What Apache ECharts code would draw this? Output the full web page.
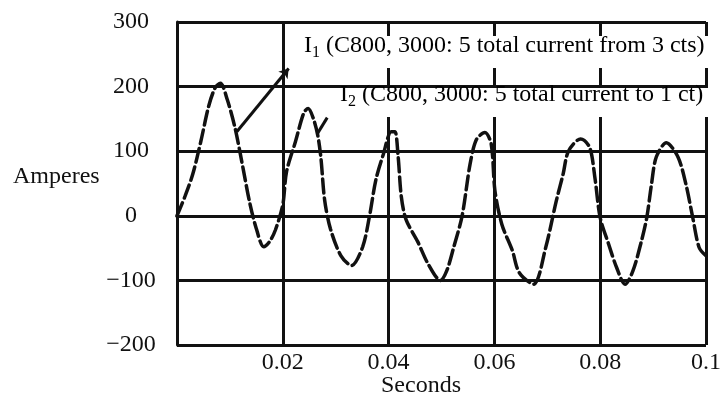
<!DOCTYPE html>
<html>
<head>
<meta charset="utf-8">
<script src="https://cdn.jsdelivr.net/npm/echarts@6/dist/echarts.min.js"></script>
<style>
  html, body { margin: 0; padding: 0; background: #fff; }
  #chart { width: 724px; height: 400px; }
</style>
</head>
<body>
<div id="chart"></div>
<script>
// ==============================
// data
// ==============================

const seconds = [0, 0.0015, 0.003, 0.0045, 0.006, 0.0072, 0.0082, 0.0095, 0.011, 0.0125, 0.0137, 0.015, 0.0164, 0.0175, 0.0186,
  0.02, 0.0207, 0.0224, 0.024, 0.0248, 0.0258, 0.0266, 0.0272, 0.0279, 0.029, 0.031, 0.033, 0.0351, 0.0364, 0.0376, 0.039,
  0.0405, 0.0412, 0.0418, 0.0424, 0.0433, 0.0455, 0.0475, 0.0498, 0.051, 0.0523, 0.0539, 0.0554, 0.0566, 0.0582, 0.0594,
  0.0601, 0.0614, 0.0634, 0.0647, 0.0674, 0.0697, 0.0717, 0.073, 0.074, 0.0763, 0.078, 0.079, 0.08, 0.0816, 0.0831,
  0.0847, 0.0862, 0.0878, 0.0888, 0.0897, 0.0906, 0.0925, 0.0947, 0.0962, 0.0975, 0.0987, 0.1];

const amperes = [0, 30, 65, 115, 170, 198, 205, 180, 135, 73, 22, -20, -48, -40, -22,
  17, 68, 115, 160, 166, 150, 125, 90, 25, -20, -62, -77, -48, 0, 56, 95,
  130, 130, 92, 30, -6, -40, -75, -100, -85, -49, 0, 80, 118, 129, 111,
  39, -13, -54, -88, -106, -49, 23, 65, 100, 119, 106, 59, -3, -44, -80,
  -106, -85, -39, -3, 49, 91, 113, 91, 49, -3, -49, -62];

// leader lines from the curve to the two captions [seconds, amperes]
const i1Leader = [[0.0113, 130], [0.0211, 228]];
const i2Leader = [[0.0266, 128], [0.0284, 152]];

const xTicks = { min: 0, max: 0.1, step: 0.02 };
const yTicks = { min: -200, max: 300, step: 100 };

const i1Caption = ' (C800, 3000: 5 total current from 3 cts)';
const i2Caption = ' (C800, 3000: 5 total current to 1 ct)';

// ==============================
// chart
// ==============================

const INK = '#111';
const SERIF = '"Liberation Serif", "DejaVu Serif", serif';

const chart = echarts.init(document.getElementById('chart'));

const labelFont = { color: INK, fontFamily: SERIF, fontSize: 24 };

// rich text with subscript
function caption(sub, rest) {
  return {
    text: '{a|I}{s|' + sub + '}{a|' + rest + '}',
    rich: {
      a: { fontFamily: SERIF, fontSize: 24, color: INK, lineHeight: 30, verticalAlign: 'middle' },
      s: { fontFamily: SERIF, fontSize: 16, color: INK, lineHeight: 18, verticalAlign: 'bottom' }
    }
  };
}

const lineStyleInk = { color: INK, width: 3, type: 'solid' };

chart.setOption({
  backgroundColor: '#fff',
  animation: false,
  grid: { left: 177, right: 11, top: 22, bottom: 55, containLabel: false },
  xAxis: {
    type: 'value',
    min: xTicks.min,
    max: xTicks.max,
    interval: xTicks.step,
    axisLine: { show: true, lineStyle: lineStyleInk },
    axisTick: { show: false },
    splitLine: { show: true, lineStyle: lineStyleInk },
    axisLabel: {
      ...labelFont,
      margin: 6,
      showMinLabel: false,
      formatter: v => String(+v.toFixed(2))
    }
  },
  yAxis: {
    type: 'value',
    min: yTicks.min,
    max: yTicks.max,
    interval: yTicks.step,
    axisLine: { show: true, lineStyle: lineStyleInk },
    axisTick: { show: false },
    splitLine: { show: true, lineStyle: lineStyleInk },
    axisLabel: {
      ...labelFont,
      align: 'center',
      margin: 46,
      padding: [0, 0, 6, 0],
      formatter: v => String(v).replace('-', '\u2212')
    }
  },
  series: [
    {
      name: 'I1',
      type: 'line',
      data: seconds.map((t, i) => [t, amperes[i]]),
      showSymbol: false,
      smooth: 0.3,
      z: 3,
      lineStyle: { color: INK, width: 3.5, type: [14, 5], cap: 'round' },
      markLine: {
        silent: true,
        symbol: ['none', 'none'],
        label: { show: false },
        lineStyle: { color: INK, width: 3, type: 'solid' },
        data: [
          [{ coord: i1Leader[0], symbol: 'none' }, { coord: i1Leader[1], symbol: 'arrow', symbolSize: 9 }],
          [{ coord: i2Leader[0], symbol: 'none' }, { coord: i2Leader[1], symbol: 'none' }]
        ]
      }
    }
  ],
  graphic: [
    // white backing of the two captions (hides grid lines under text)
    { type: 'rect', left: 300, top: 36, z: 10, shape: { width: 420, height: 32 }, style: { fill: '#fff' } },
    { type: 'rect', left: 335, top: 88, z: 10, shape: { width: 385, height: 29 }, style: { fill: '#fff' } },
    { type: 'text', left: 304, top: 34, z: 11, style: caption('1', i1Caption) },
    { type: 'text', left: 340, top: 83, z: 11, style: caption('2', i2Caption) },
    // axis titles
    { type: 'text', left: 13, top: 165, z: 11, style: { text: 'Amperes', ...labelFont, fill: INK } },
    { type: 'text', left: 381, top: 374, z: 11, style: { text: 'Seconds', ...labelFont, fill: INK } }
  ]
});
</script>
</body>
</html>
